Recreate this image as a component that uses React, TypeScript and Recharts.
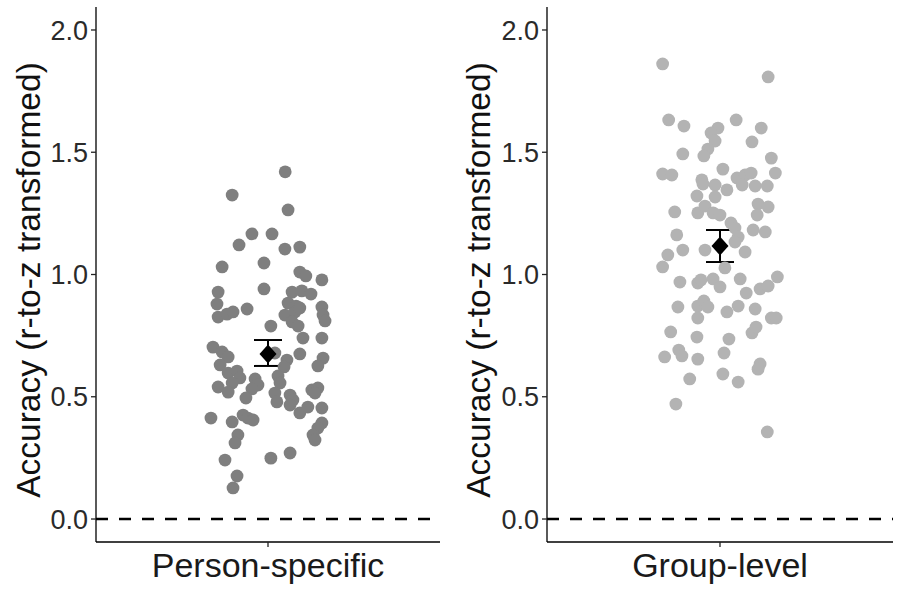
import React from 'react';
import { ScatterChart, Scatter, XAxis, YAxis, ReferenceLine, ErrorBar } from 'recharts';

// ---- Data ----
const categories = ['Person-specific', 'Group-level'];
const yTicks = [0, 0.5, 1.0, 1.5, 2.0];

// Person-specific: accuracy values and horizontal jitter (category units)
const personValues = [
  1.42, 1.325, 1.264, 1.166, 1.166, 1.121, 1.104, 1.112, 1.031, 1.047,
  1.01, 0.994, 0.978, 0.928, 0.941, 0.928, 0.933, 0.92, 0.879, 0.883,
  0.871, 0.867, 0.859, 0.826, 0.838, 0.847, 0.834, 0.847, 0.863, 0.834,
  0.81, 0.789, 0.806, 0.789, 0.74, 0.74, 0.703, 0.683, 0.663, 0.679,
  0.675, 0.65, 0.622, 0.658, 0.626, 0.63, 0.597, 0.605, 0.577, 0.556,
  0.573, 0.548, 0.532, 0.585, 0.556, 0.54, 0.495, 0.528, 0.536, 0.519,
  0.515, 0.479, 0.507, 0.487, 0.466, 0.515, 0.434, 0.458, 0.454, 0.413,
  0.397, 0.425, 0.413, 0.405, 0.393, 0.372, 0.344, 0.323, 0.344, 0.311,
  0.241, 0.249, 0.27, 0.176, 0.127,
];
const personJitter = [
  0.06, -0.125, 0.07, -0.056, 0.014, -0.101, 0.059, 0.111, -0.16, -0.014,
  0.111, 0.132, 0.188, -0.174, -0.014, 0.084, 0.118, 0.15, -0.178, 0.07,
  0.098, 0.188, -0.073, -0.174, -0.143, -0.122, 0.059, 0.094, 0.111, 0.192,
  0.199, 0.01, 0.084, 0.105, 0.122, 0.188, -0.192, -0.16, -0.139, 0.024,
  0.111, 0.066, 0.056, 0.192, 0.174, -0.167, -0.139, -0.108, -0.098, -0.125,
  -0.045, -0.035, -0.056, 0.035, 0.042, -0.174, -0.077, 0.153, 0.174, -0.139,
  0.024, 0.031, 0.077, 0.087, 0.077, 0.164, 0.111, 0.139, 0.188, -0.199,
  -0.125, -0.087, -0.07, -0.052, 0.188, 0.174, 0.157, 0.164, -0.105, -0.115,
  -0.15, 0.01, 0.077, -0.108, -0.122,
];

// Group-level
const groupValues = [
  1.861, 1.808, 1.632, 1.607, 1.632, 1.599, 1.599, 1.579, 1.546, 1.542,
  1.513, 1.485, 1.493, 1.476, 1.411, 1.407, 1.431, 1.387, 1.395, 1.407,
  1.415, 1.415, 1.37, 1.366, 1.346, 1.366, 1.362, 1.362, 1.321, 1.317,
  1.288, 1.276, 1.243, 1.256, 1.252, 1.28, 1.252, 1.243, 1.211, 1.19,
  1.182, 1.174, 1.153, 1.133, 1.162, 1.1, 1.1, 1.092, 1.08, 1.031,
  1.027, 0.969, 0.965, 0.978, 0.982, 0.949, 0.982, 0.941, 0.953, 0.99,
  0.924, 0.867, 0.871, 0.892, 0.867, 0.822, 0.847, 0.871, 0.859, 0.822,
  0.822, 0.765, 0.744, 0.736, 0.761, 0.785, 0.663, 0.691, 0.667, 0.654,
  0.679, 0.634, 0.613, 0.573, 0.593, 0.56, 0.47, 0.356,
];
const groupJitter = [
  -0.199, 0.167, -0.178, -0.125, 0.056, 0.143, -0.007, -0.031, -0.017, 0.111,
  -0.042, -0.056, -0.129, 0.178, -0.199, -0.167, 0.01, -0.063, 0.059, 0.087,
  0.108, 0.192, -0.059, -0.017, 0.024, 0.077, 0.122, 0.164, -0.08, -0.017,
  0.132, 0.167, 0.129, -0.157, -0.077, -0.052, -0.024, 0.0, 0.038, 0.052,
  0.115, 0.157, 0.063, 0.052, -0.15, -0.129, -0.052, 0.087, -0.181, -0.199,
  0.017, -0.139, -0.077, -0.066, -0.024, 0.0, 0.07, 0.139, 0.167, 0.199,
  0.091, -0.146, -0.077, -0.056, -0.042, -0.077, 0.024, 0.063, 0.122, 0.178,
  0.195, -0.171, -0.08, 0.031, 0.111, 0.125, -0.192, -0.143, -0.132, -0.077,
  0.014, 0.139, 0.132, -0.105, 0.01, 0.063, -0.153, 0.164,
];

// Means with error bar limits [mean, low, high]
const personMean = [0.675, 0.626, 0.732];
const groupMean = [1.117, 1.051, 1.182];

// ---- Styling ----
const FONT = '"Liberation Sans", Arial, Helvetica, sans-serif';

const buildPoints = (vals: number[], jit: number[]) =>
  vals.map((v, i) => ({ x: 1 + jit[i], y: v }));

const buildMean = (m: number[]) => [
  { x: 1, y: m[0], err: [m[0] - m[1], m[2] - m[0]] },
];

const makeDot = (color: string) => (props: any) => {
  const { cx, cy } = props;
  if (cx == null || cy == null) return <g />;
  return <circle cx={cx} cy={cy} r={6.4} fill={color} stroke="none" />;
};

const Diamond = (props: any) => {
  const { cx, cy } = props;
  if (cx == null || cy == null) return <g />;
  const w = 8.5;
  const h = 9.5;
  return (
    <polygon
      points={`${cx},${cy - h} ${cx + w},${cy} ${cx},${cy + h} ${cx - w},${cy}`}
      fill="#000"
    />
  );
};

const YTitle = (props: any) => {
  const x = 28;
  const y = 280;
  return (
    <text
      x={x}
      y={y}
      transform={`rotate(-90 ${x} ${y})`}
      textAnchor="middle"
      dominantBaseline="central"
      fontFamily={FONT}
      fontSize={33.5}
      fill="#111"
    >
      Accuracy (r-to-z transformed)
    </text>
  );
};

interface PanelProps {
  label: string;
  values: number[];
  jitter: number[];
  mean: number[];
  color: string;
  yAxisWidth: number;
  rightMargin: number;
}

const Panel = ({ label, values, jitter, mean, color, yAxisWidth, rightMargin }: PanelProps) => {
  const pts = buildPoints(values, jitter);
  const meanPts = buildMean(mean);
  return (
    <ScatterChart
      width={450}
      height={590}
      margin={{ top: 7, right: rightMargin, bottom: 0, left: 0 }}
    >
      <XAxis
        type="number"
        dataKey="x"
        domain={[0.4, 1.6]}
        ticks={[1]}
        allowDataOverflow
        tickFormatter={() => label}
        height={48}
        tickSize={5}
        tickMargin={6}
        axisLine={{ stroke: '#000', strokeWidth: 1.3 }}
        tickLine={{ stroke: '#222', strokeWidth: 1.3 }}
        tick={{ fill: '#1a1a1a', fontSize: 34, fontFamily: FONT }}
      />
      <YAxis
        type="number"
        dataKey="y"
        domain={[-0.094, 2.094]}
        ticks={yTicks}
        allowDataOverflow
        tickFormatter={(v: number) => v.toFixed(1)}
        width={yAxisWidth}
        tickSize={5}
        tickMargin={3}
        axisLine={{ stroke: '#000', strokeWidth: 1.3 }}
        tickLine={{ stroke: '#222', strokeWidth: 1.3 }}
        tick={{ fill: '#2a2a2a', fontSize: 27, fontFamily: FONT }}
        label={<YTitle />}
      />
      <ReferenceLine
        y={0}
        stroke="#000"
        strokeWidth={2.6}
        strokeDasharray="12 11"
        ifOverflow="extendDomain"
      />
      <Scatter data={pts} shape={makeDot(color)} isAnimationActive={false} />
      <Scatter data={meanPts} shape={Diamond} isAnimationActive={false}>
        <ErrorBar
          dataKey="err"
          direction="y"
          width={14}
          stroke="#000"
          strokeWidth={2}
          isAnimationActive={false}
        />
      </Scatter>
    </ScatterChart>
  );
};

export default function App() {
  return (
    <div
      style={{
        position: 'absolute',
        left: 0,
        top: 0,
        width: 900,
        height: 590,
        background: '#fff',
        display: 'flex',
        flexDirection: 'row',
      }}
    >
      <Panel
        label={categories[0]}
        values={personValues}
        jitter={personJitter}
        mean={personMean}
        color="#7f7f7f"
        yAxisWidth={96}
        rightMargin={10}
      />
      <Panel
        label={categories[1]}
        values={groupValues}
        jitter={groupJitter}
        mean={groupMean}
        color="#b3b3b3"
        yAxisWidth={97}
        rightMargin={7}
      />
    </div>
  );
}
